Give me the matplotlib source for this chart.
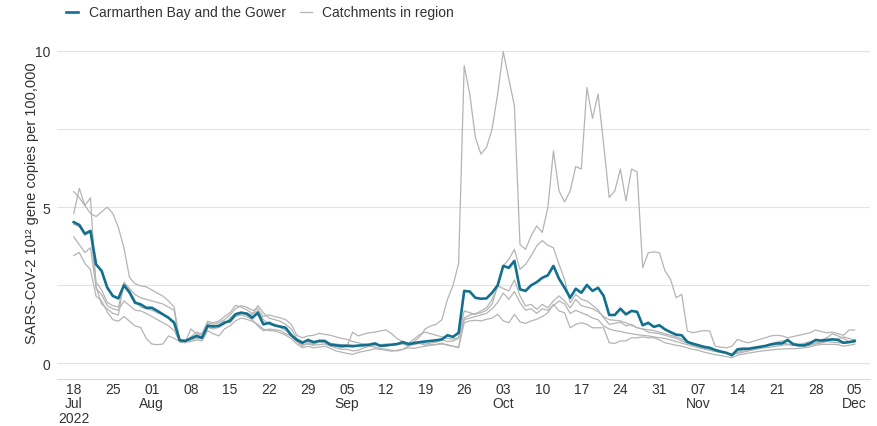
import matplotlib
matplotlib.use("Agg")
import matplotlib.pyplot as plt
from matplotlib.lines import Line2D
import pandas as pd

plt.rcParams['font.family'] = ['Liberation Sans', 'DejaVu Sans']

# daily values, 18 Jul 2022 .. 05 Dec 2022
dates = pd.date_range("2022-07-18", "2022-12-05", freq="D")

region_name = "Carmarthen Bay and the Gower"
region_values = [
    4.52, 4.43, 4.15, 4.24, 3.17, 2.96, 2.43,
    2.16, 2.08, 2.50, 2.27, 1.94, 1.89, 1.78,
    1.78, 1.68, 1.57, 1.46, 1.30, 0.74, 0.72,
    0.80, 0.88, 0.82, 1.20, 1.18, 1.20, 1.30,
    1.36, 1.57, 1.62, 1.59, 1.46, 1.62, 1.25,
    1.30, 1.22, 1.18, 1.14, 0.90, 0.75, 0.66,
    0.75, 0.68, 0.72, 0.72, 0.60, 0.58, 0.56,
    0.56, 0.55, 0.57, 0.58, 0.60, 0.64, 0.56,
    0.58, 0.60, 0.62, 0.68, 0.62, 0.65, 0.68,
    0.70, 0.72, 0.74, 0.77, 0.90, 0.85, 0.98,
    2.32, 2.30, 2.10, 2.07, 2.08, 2.26, 2.50,
    3.12, 3.06, 3.28, 2.37, 2.32, 2.50, 2.60,
    2.74, 2.82, 3.12, 2.71, 2.42, 2.10, 2.39,
    2.26, 2.51, 2.32, 2.42, 2.16, 1.55, 1.55,
    1.75, 1.57, 1.68, 1.65, 1.22, 1.30, 1.17,
    1.22, 1.09, 1.00, 0.92, 0.90, 0.69, 0.63,
    0.58, 0.53, 0.50, 0.43, 0.38, 0.34, 0.26,
    0.45, 0.47, 0.47, 0.50, 0.53, 0.56, 0.61,
    0.64, 0.64, 0.75, 0.61, 0.58, 0.58, 0.64,
    0.75, 0.73, 0.75, 0.77, 0.75, 0.66, 0.68,
    0.72,
]

catchment_1 = [
    5.50, 5.30, 5.05, 5.30, 2.40, 2.20, 1.85,
    1.75, 1.70, 2.00, 1.85, 1.70, 1.68, 1.60,
    1.50, 1.40, 1.30, 1.20, 1.05, 0.70, 0.68,
    1.10, 0.95, 0.90, 1.30, 1.25, 1.30, 1.40,
    1.55, 1.75, 1.85, 1.80, 1.70, 1.75, 1.50,
    1.55, 1.50, 1.46, 1.40, 1.25, 0.90, 0.82,
    0.88, 0.90, 0.96, 0.93, 0.90, 0.85, 0.80,
    0.77, 0.70, 0.66, 0.62, 0.60, 0.58, 0.60,
    0.62, 0.60, 0.62, 0.65, 0.60, 0.62, 0.68,
    0.62, 0.65, 0.68, 0.75, 0.70, 0.72, 0.80,
    1.68, 1.62, 1.57, 1.68, 1.78, 2.05, 2.45,
    3.12, 3.33, 3.65, 3.01, 3.17, 3.44, 3.76,
    3.93, 3.78, 3.70, 3.17, 2.69, 1.94, 2.21,
    2.05, 2.00, 1.86, 1.71, 1.46, 1.25, 1.28,
    1.32, 1.20, 1.25, 1.14, 1.10, 1.08, 1.05,
    1.00, 0.95, 0.90, 0.85, 0.78, 0.70, 0.62,
    0.55, 0.50, 0.45, 0.40, 0.36, 0.32, 0.28,
    0.40, 0.42, 0.45, 0.48, 0.52, 0.55, 0.58,
    0.60, 0.65, 0.62, 0.58, 0.60, 0.65, 0.70,
    0.72, 0.75, 0.82, 0.95, 0.88, 0.80, 0.70,
    0.68,
]

catchment_2 = [
    4.80, 5.60, 5.05, 4.80, 4.70, 4.85, 5.00,
    4.80, 4.35, 3.70, 2.75, 2.55, 2.48, 2.45,
    2.35, 2.25, 2.15, 2.00, 1.80, 0.72, 0.70,
    0.75, 0.80, 0.78, 1.15, 1.10, 1.15, 1.25,
    1.45, 1.60, 1.65, 1.62, 1.55, 1.85, 1.62,
    1.45, 1.40, 1.35, 1.25, 1.10, 0.80, 0.70,
    0.70, 0.62, 0.68, 0.66, 0.58, 0.55, 0.50,
    0.55, 1.00, 0.88, 0.94, 0.98, 1.00, 1.04,
    1.07, 0.95, 0.79, 0.70, 0.64, 0.78, 0.92,
    1.00, 0.95, 0.90, 0.85, 0.80, 0.78, 0.82,
    1.40, 1.45, 1.50, 1.55, 1.60, 1.75, 1.95,
    2.25, 2.05, 2.30, 1.95, 1.70, 1.75, 1.60,
    1.75, 1.70, 1.85, 2.00, 1.90, 1.60, 1.70,
    1.62, 1.55, 1.45, 1.40, 1.20, 1.10, 1.05,
    1.02, 0.98, 0.95, 0.92, 0.90, 0.88, 0.85,
    0.82, 0.80, 0.75, 0.70, 0.65, 0.60, 0.55,
    0.50, 0.46, 0.42, 0.38, 0.35, 0.32, 0.28,
    0.32, 0.36, 0.40, 0.44, 0.48, 0.50, 0.52,
    0.55, 0.58, 0.60, 0.58, 0.56, 0.55, 0.58,
    0.62, 0.65, 0.70, 0.68, 0.66, 0.65, 0.68,
    0.66,
]

catchment_3 = [
    4.05, 3.80, 3.55, 3.70, 2.45, 1.90, 1.75,
    1.60, 1.55, 2.60, 2.40, 2.20, 2.10, 2.05,
    2.00, 1.95, 1.90, 1.80, 1.70, 0.68, 0.66,
    0.85, 1.00, 0.95, 1.35, 1.30, 1.35, 1.50,
    1.62, 1.86, 1.80, 1.72, 1.60, 1.68, 1.40,
    1.25, 1.20, 1.15, 1.05, 0.95, 0.72, 0.60,
    0.62, 0.58, 0.60, 0.62, 0.55, 0.50, 0.45,
    0.45, 0.40, 0.42, 0.50, 0.55, 0.52, 0.48,
    0.45, 0.42, 0.40, 0.45, 0.50, 0.48, 0.52,
    0.55, 0.58, 0.60, 0.62, 0.60, 0.55, 0.52,
    1.45, 1.55, 1.60, 1.62, 1.70, 1.90, 2.48,
    2.40, 2.32, 2.67, 2.16, 1.84, 1.89, 1.73,
    1.89, 1.78, 2.00, 2.16, 2.00, 1.78, 2.05,
    1.85, 1.80, 1.75, 1.65, 1.50, 1.40, 1.38,
    1.36, 1.30, 1.22, 1.14, 1.10, 1.00, 0.98,
    0.95, 0.90, 0.85, 0.80, 0.72, 0.65, 0.58,
    0.52, 0.48, 0.44, 0.40, 0.37, 0.33, 0.30,
    0.35, 0.40, 0.44, 0.48, 0.52, 0.56, 0.62,
    0.68, 0.72, 0.70, 0.65, 0.62, 0.60, 0.62,
    0.66, 0.68, 0.72, 0.75, 0.78, 0.85, 0.80,
    0.75,
]

catchment_4 = [
    3.45, 3.55, 3.20, 3.00, 2.15, 2.00, 1.65,
    1.40, 1.35, 1.50, 1.35, 1.20, 1.15, 0.80,
    0.62, 0.60, 0.62, 0.88, 0.80, 0.70, 0.68,
    0.70, 0.75, 0.72, 1.05, 0.95, 0.88, 1.10,
    1.20, 1.36, 1.45, 1.41, 1.35, 1.25, 1.10,
    1.05, 1.04, 0.98, 0.90, 0.80, 0.62, 0.50,
    0.55, 0.50, 0.52, 0.55, 0.48, 0.40, 0.36,
    0.32, 0.29, 0.35, 0.39, 0.42, 0.47, 0.45,
    0.42, 0.39, 0.42, 0.45, 0.55, 0.70, 0.85,
    1.10, 1.20, 1.25, 1.40, 2.05, 2.50, 3.20,
    9.53, 8.62, 7.23, 6.70, 6.91, 7.50, 8.62,
    9.98, 9.10, 8.25, 3.81, 3.65, 4.08, 4.40,
    4.19, 4.99, 6.80, 5.52, 5.17, 5.52, 6.30,
    6.22, 8.83, 7.84, 8.62, 7.02, 5.31, 5.52,
    6.22, 5.20, 6.22, 6.13, 3.06, 3.54, 3.57,
    3.54, 2.96, 2.69, 2.10, 2.21, 1.04, 0.98,
    1.02, 1.05, 1.04, 0.55, 0.52, 0.50, 0.55,
    0.77, 0.70, 0.66, 0.72, 0.77, 0.82, 0.88,
    0.90, 0.88, 0.82, 0.86, 0.90, 0.94, 0.98,
    1.07, 1.02, 0.98, 1.00, 0.95, 0.90, 1.07,
    1.07,
]

catchment_5 = [
    4.45, 4.38, 4.10, 4.20, 2.60, 2.35, 1.95,
    1.85, 1.80, 2.55, 2.35, 2.00, 1.80, 1.75,
    1.70, 1.62, 1.55, 1.45, 1.35, 0.75, 0.73,
    0.78, 0.85, 0.80, 1.25, 1.20, 1.22, 1.35,
    1.30, 1.50, 1.55, 1.50, 1.40, 1.20, 1.04,
    1.10, 1.08, 1.05, 0.95, 0.88, 0.70, 0.55,
    0.66, 0.60, 0.75, 0.70, 0.65, 0.62, 0.60,
    0.60, 0.58, 0.56, 0.62, 0.58, 0.60, 0.55,
    0.55, 0.58, 0.60, 0.62, 0.56, 0.60, 0.64,
    0.58, 0.60, 0.61, 0.65, 0.58, 0.55, 0.50,
    1.30, 1.36, 1.38, 1.36, 1.41, 1.45, 1.57,
    1.36, 1.30, 1.57, 1.33, 1.28, 1.36, 1.41,
    1.50, 1.62, 1.89, 1.68, 1.62, 1.14, 1.25,
    1.30, 1.25, 1.14, 1.14, 1.14, 0.66, 0.64,
    0.72, 0.72, 0.82, 0.82, 0.85, 0.82, 0.82,
    0.75, 0.66, 0.62, 0.58, 0.55, 0.50, 0.45,
    0.42, 0.36, 0.32, 0.28, 0.25, 0.22, 0.18,
    0.26, 0.30, 0.33, 0.36, 0.39, 0.41, 0.43,
    0.45, 0.46, 0.47, 0.47, 0.48, 0.50, 0.53,
    0.58, 0.61, 0.61, 0.61, 0.60, 0.55, 0.58,
    0.61,
]

catchments = [catchment_1, catchment_2, catchment_3, catchment_4, catchment_5]

main_color = "#12708f"
grey_color = "#b4b4b4"
text_color = "#333333"

fig = plt.figure(figsize=(8.77, 4.27), dpi=100)
ax = fig.add_axes([0.065, 0.110, 0.927, 0.805])

for values in catchments:
    ax.plot(dates, values, color=grey_color, lw=0.9, zorder=2)
ax.plot(dates, region_values, color=main_color, lw=1.9, zorder=3)

ax.set_ylim(-0.5, 10.5)
ax.set_yticks([0, 5, 10])
ax.set_yticks([2.5, 7.5], minor=True)
ax.grid(True, axis="y", which="both", color="#e3e3e3", lw=0.8)
ax.set_axisbelow(True)

ax.set_xlim(pd.Timestamp("2022-07-15"), pd.Timestamp("2022-12-07 18:00"))
tick_dates = pd.date_range("2022-07-18", "2022-12-05", freq="7D")
tick_labels = []
prev_month = None
for i, d in enumerate(tick_dates):
    lab = d.strftime("%d")
    if d.month != prev_month:
        lab += "\n" + d.strftime("%b")
    if i == 0:
        lab += "\n" + d.strftime("%Y")
    prev_month = d.month
    tick_labels.append(lab)
ax.set_xticks(tick_dates)
ax.set_xticklabels(tick_labels, linespacing=1.05)

ax.tick_params(axis="both", which="both", length=0, labelsize=10, labelcolor=text_color)
ax.tick_params(axis="y", pad=5)
ax.tick_params(axis="x", pad=2)

for side in ["left", "right", "top"]:
    ax.spines[side].set_visible(False)
ax.spines["bottom"].set_color("#d9d9d9")
ax.spines["bottom"].set_linewidth(0.8)

ax.set_ylabel("SARS-CoV-2 10¹² gene copies per 100,000", fontsize=10.5, color=text_color)
ax.yaxis.set_label_coords(-0.022, 0.515)

handles = [
    Line2D([0], [0], color=main_color, lw=1.9),
    Line2D([0], [0], color=grey_color, lw=0.9),
]
fig.legend(handles, [region_name, "Catchments in region"], loc="upper left",
           bbox_to_anchor=(0.075, 0.985), ncol=2, frameon=False, fontsize=10,
           handlelength=0.9, handletextpad=0.75, columnspacing=1.0,
           borderpad=0, borderaxespad=0, labelcolor=text_color)

fig.savefig("out.png", dpi=100)
